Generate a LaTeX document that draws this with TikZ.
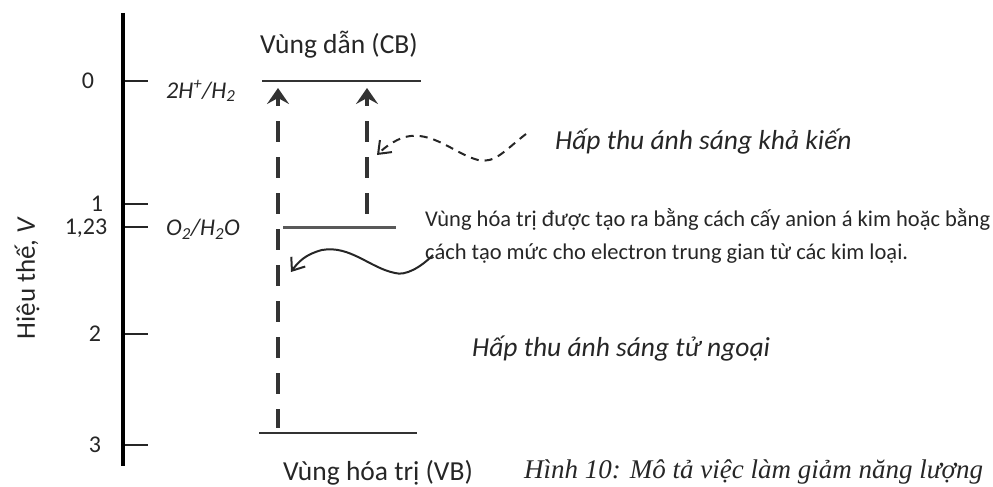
\documentclass[tikz,border=0pt]{standalone}
\usepackage{fontspec}
\setmainfont{Carlito}
\newfontfamily\capfont{Liberation Serif}
\usetikzlibrary{arrows.meta}

\begin{document}
\begin{tikzpicture}[x=1pt, y=-1pt,
  txt/.style={inner sep=0pt, text=black!85, font=\fontsize{24}{28}\selectfont},
  big/.style={inner sep=0pt, text=black!85, font=\fontsize{27.5}{31}\selectfont},
  note/.style={inner sep=0pt, anchor=west, text=black!85, font=\fontsize{27.5}{31}\selectfont\itshape},
  couple/.style={inner sep=0pt, anchor=west, text=black!85, font=\fontsize{24}{28}\selectfont\itshape},
  level/.style={line width=2pt, black!80},
  tick/.style={line width=1.5pt, black!85},
  excite/.style={line width=4pt, black!80, dash pattern=on 21pt off 15pt, dash phase=12pt,
    {Stealth[length=16pt, width=22pt, inset=6pt]}-},
  wave/.style={line width=2pt, black!85, -{Straight Barb[length=11pt, width=17pt]}}]

  \useasboundingbox (0,0) rectangle (993,487);

  % potential axis
  \draw[line width=4pt] (123,13) coordinate (axtop) -- (123,466) coordinate (axbot);
  \node[txt] (t0) at (88,81) {0};
  \node[txt] (t1) at (97,204) {1};
  \node[txt] (t123) at (86,228) {1,23};
  \node[txt] (t2) at (95,334) {2};
  \node[txt] (t3) at (95,445) {3};
  \foreach \y/\n in {81/a, 204/b, 227/c, 334/d, 445/e}
    \draw[tick] (125,\y) coordinate (k\n) -- (148,\y);
  \node[big, font=\fontsize{27}{31}\selectfont, rotate=90] (axis) at (27,278) {Hiệu thế, \textit{V}};

  \node[couple] (hh) at (166,91) {2H\textsuperscript{+}/H\textsubscript{2}};
  \node[couple] (oo) at (166,229) {O\textsubscript{2}/H\textsubscript{2}O};

  % band levels
  \draw[level] (262,81) coordinate (cbL) -- (421,81) coordinate (cbR);
  \draw[level, line width=3pt, black!65] (283,227) coordinate (midL) -- (396,227) coordinate (midR);
  \draw[level] (259,433) coordinate (vbL) -- (417,433) coordinate (vbR);
  \node[big] (cb) at (339,45) {Vùng dẫn (CB)};
  \node[big] (vb) at (378,473) {Vùng hóa trị (VB)};

  \coordinate (up1) at (278,88);
  \coordinate (lo1) at (278,428);
  \coordinate (up2) at (367,88);
  \coordinate (lo2) at (367,218);
  \draw[excite] (up1) -- (lo1);
  \draw[excite] (up2) -- (lo2);

  \node[note] (vis) at (555,142) {Hấp thu ánh sáng khả kiến};
  \node[note] (uv) at (472,349) {Hấp thu ánh sáng tử ngoại};
  \node[txt, anchor=west, align=left, font=\fontsize{22.5}{33}\selectfont] (mid) at (425,236)
    {Vùng hóa trị được tạo ra bằng cách cấy anion á kim hoặc bằng\\
     cách tạo mức cho electron trung gian từ các kim loại.};
  \node[inner sep=0pt, anchor=west, text=black!85, font=\fontsize{27}{31}\selectfont\capfont\itshape]
    (cap) at (524,472) {Hình 10: Mô tả việc làm giảm năng lượng};

  \coordinate (vs) at (526,134);
  \coordinate (vt) at (377,155);
  \draw[wave, dash pattern=on 8pt off 6pt]
    (vs) .. controls (505,150) and (495,164) .. (478,160)
         .. controls (455,154) and (432,130) .. (405,137)
         .. controls (395,140) and (385,147) .. (vt);

  \coordinate (ms) at (433,255);
  \coordinate (mt) at (291,272);
  \draw[wave]
    (ms) .. controls (420,268) and (405,276) .. (395,273)
         .. controls (370,268) and (350,245) .. (322,250)
         .. controls (306,254) and (298,262) .. (mt);
\end{tikzpicture}
\end{document}
